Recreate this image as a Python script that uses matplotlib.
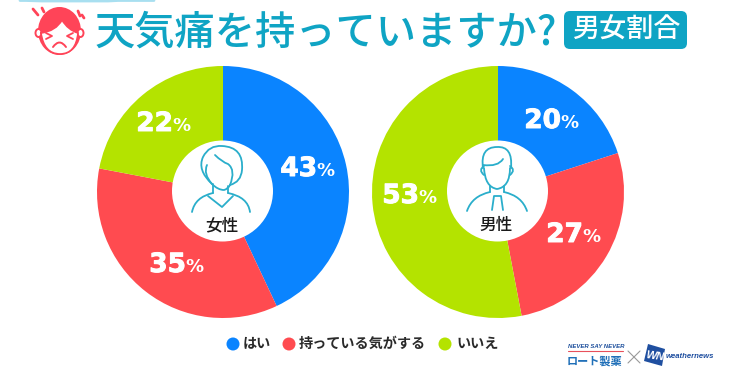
import matplotlib
matplotlib.use("Agg")
import matplotlib.pyplot as plt
import matplotlib.patheffects as pe
from matplotlib.patches import Circle, Ellipse, FancyBboxPatch, PathPatch, Polygon
from matplotlib.path import Path

plt.rcParams['font.family'] = ['Noto Sans CJK JP', 'DejaVu Sans']

categories = ["はい", "持っている気がする", "いいえ"]
women = [43, 35, 22]
men = [20, 27, 53]
colors = ["#0a84ff", "#ff4b50", "#b4e300"]

TEAL = "#0fa4c4"
ICON = "#2aaecb"

fig = plt.figure(figsize=(7.56, 3.87), dpi=100)
ax = fig.add_axes([0, 0, 1, 1])


# smooth line through control points, in pixel coords
def curve(pts, color=ICON, lw=1.3, fill=None):
    codes = [Path.MOVETO] + [Path.CURVE3] * (len(pts) - 1)
    ax.add_patch(PathPatch(Path(pts, codes), fc=fill or "none", ec=color, lw=lw,
                           capstyle="round", zorder=6))


def line(xs, ys, color=ICON, lw=1.3):
    ax.plot(xs, ys, color=color, lw=lw, solid_capstyle="round", zorder=6)


# pies, axis is inverted so counterclock reads clockwise on screen
for values, cx in [(women, 223), (men, 498)]:
    ax.pie(values, colors=colors, center=(cx, 192), radius=126, startangle=-90,
           counterclock=True, frame=True, wedgeprops={"linewidth": 0})
    ax.add_patch(Circle((cx - 0.5, 191), 50.5, fc="white", ec="none", zorder=4))

ax.set_xlim(0, 756)
ax.set_ylim(387, 0)
ax.set_aspect("auto")
ax.axis("off")

# percent labels, x is the join between digits and %
label_pos_w = [(317, 169), (186, 265), (173, 124)]
label_pos_m = [(561, 121), (583, 235), (419, 196)]
heavy = [pe.withStroke(linewidth=0.7, foreground="white")]
for values, positions in [(women, label_pos_w), (men, label_pos_m)]:
    for v, (x, y) in zip(values, positions):
        ax.text(x, y, str(v), color="white", fontsize=19, fontweight="bold", family="DejaVu Sans",
                ha="right", va="center", zorder=5, path_effects=heavy)
        ax.text(x - 1, y + 2, "%", color="white", fontsize=13, fontweight="bold", family="DejaVu Sans",
                ha="left", va="center", zorder=5)

# title
ax.text(95, 33, "天気痛を持っていますか?", color=TEAL, fontsize=29, fontweight="medium",
        ha="left", va="center")
ax.add_patch(FancyBboxPatch((569, 16), 113, 28, boxstyle="round,pad=5,rounding_size=6",
                            fc=TEAL, ec="none"))
ax.text(626.5, 30, "男女割合", color="white", fontsize=19.5, fontweight="medium", ha="center", va="center")

# strip of cut-off text at the very top
line([20, 26, 42, 50, 62, 108, 118, 154], [0.5, 0.5, 1, 1, 1, 1, 0.5, 0.5], color="#a8dff0", lw=2)

# face icon
RED = "#ff4458"
ax.add_patch(Ellipse((59.5, 31), 43, 48, fc=RED, ec="none", zorder=3))
ax.add_patch(Ellipse((38.5, 33), 6, 8, fc="white", ec=RED, lw=1.4, zorder=3))
ax.add_patch(Ellipse((80.5, 33), 6, 8, fc="white", ec=RED, lw=1.4, zorder=3))
curve([(41, 33), (44, 54), (60, 54), (76, 54), (78, 33), (68, 30), (62, 20), (56, 31), (41, 33)],
      color=RED, lw=1.2, fill="white")
line([46, 52, 46], [33, 36, 39], color=RED, lw=1.3)
line([73, 67, 73], [33, 36, 39], color=RED, lw=1.3)
curve([(53, 47), (59.5, 38), (66, 47)], color=RED, lw=1.4)
for xs, ys in [([33, 38], [9, 15]), ([42, 44], [8, 12]), ([78, 80], [11, 16]), ([82, 84], [15, 18])]:
    line(xs, ys, color=RED, lw=2)

# woman icon
curve([(212, 184), (197, 170), (203, 157), (209, 145), (222, 146), (244, 147), (242, 170), (241, 182), (230, 185)])
curve([(215, 155), (222, 162), (228, 164), (236, 170), (230, 185)])
curve([(207, 165), (203, 174), (212, 184), (218, 190), (224, 190), (228, 189), (230, 185)])
line([213, 213], [184, 193])
line([228, 228], [186, 193])
curve([(192, 212), (195, 197), (213, 193)])
curve([(250, 212), (248, 197), (228, 193)])
line([208, 222, 233], [196, 207, 196])

# man icon
curve([(483, 168), (480, 147), (497, 147), (513, 146), (511, 168)])
curve([(483, 165), (498, 167), (503, 159)])
curve([(484, 168), (485, 187), (497, 189), (510, 187), (510, 168)])
curve([(484, 166), (478, 170), (484, 175)])
curve([(510, 166), (516, 170), (510, 175)])
line([490, 490], [186, 192])
line([504, 504], [186, 192])
curve([(467, 211), (472, 196), (490, 192)])
curve([(527, 211), (522, 196), (504, 192)])
line([492, 494, 501, 503], [210, 196, 196, 210])

ax.text(222, 225, "女性", fontsize=12, fontweight="medium", color="#1a1a1a", ha="center", va="center", zorder=6)
ax.text(496, 225, "男性", fontsize=12, fontweight="medium", color="#1a1a1a", ha="center", va="center", zorder=6)

# legend
dot_x = [233, 289, 445]
text_x = [243, 299, 456]
for name, c, dx, tx in zip(categories, colors, dot_x, text_x):
    ax.add_patch(Circle((dx, 344), 6.5, fc=c, ec="none"))
    ax.text(tx, 344, name, fontsize=10.2, fontweight="bold", color="#2a2a2a", ha="left", va="center")

# logos
BLUE = "#1f6fb8"
ax.text(568, 347, "NEVER SAY NEVER", fontsize=4.3, fontweight="bold", style="italic", color="#1d4f9c",
        family="Liberation Sans", ha="left", va="center")
line([568, 623], [351, 351], color="#e8505b", lw=0.8)
ax.text(567, 361, "ロート製薬", fontsize=8, fontweight="bold", color=BLUE, ha="left", va="center")
line([628, 640], [351, 363], color="#999999", lw=0.8)
line([640, 628], [351, 363], color="#999999", lw=0.8)
ax.add_patch(Polygon([(648, 344), (665, 349), (662, 366), (644, 361)], fc="#1f4fa0", ec="none"))
ax.text(654.5, 356, "WN", fontsize=8, fontweight="bold", style="italic", color="white",
        family="Liberation Sans", ha="center", va="center", rotation=-8, zorder=6)
ax.text(666, 357, "weathernews", fontsize=5.6, fontweight="bold", style="italic", color="#1f4fa0",
        family="Liberation Sans", ha="left", va="center")

fig.savefig("out.png", dpi=100)
